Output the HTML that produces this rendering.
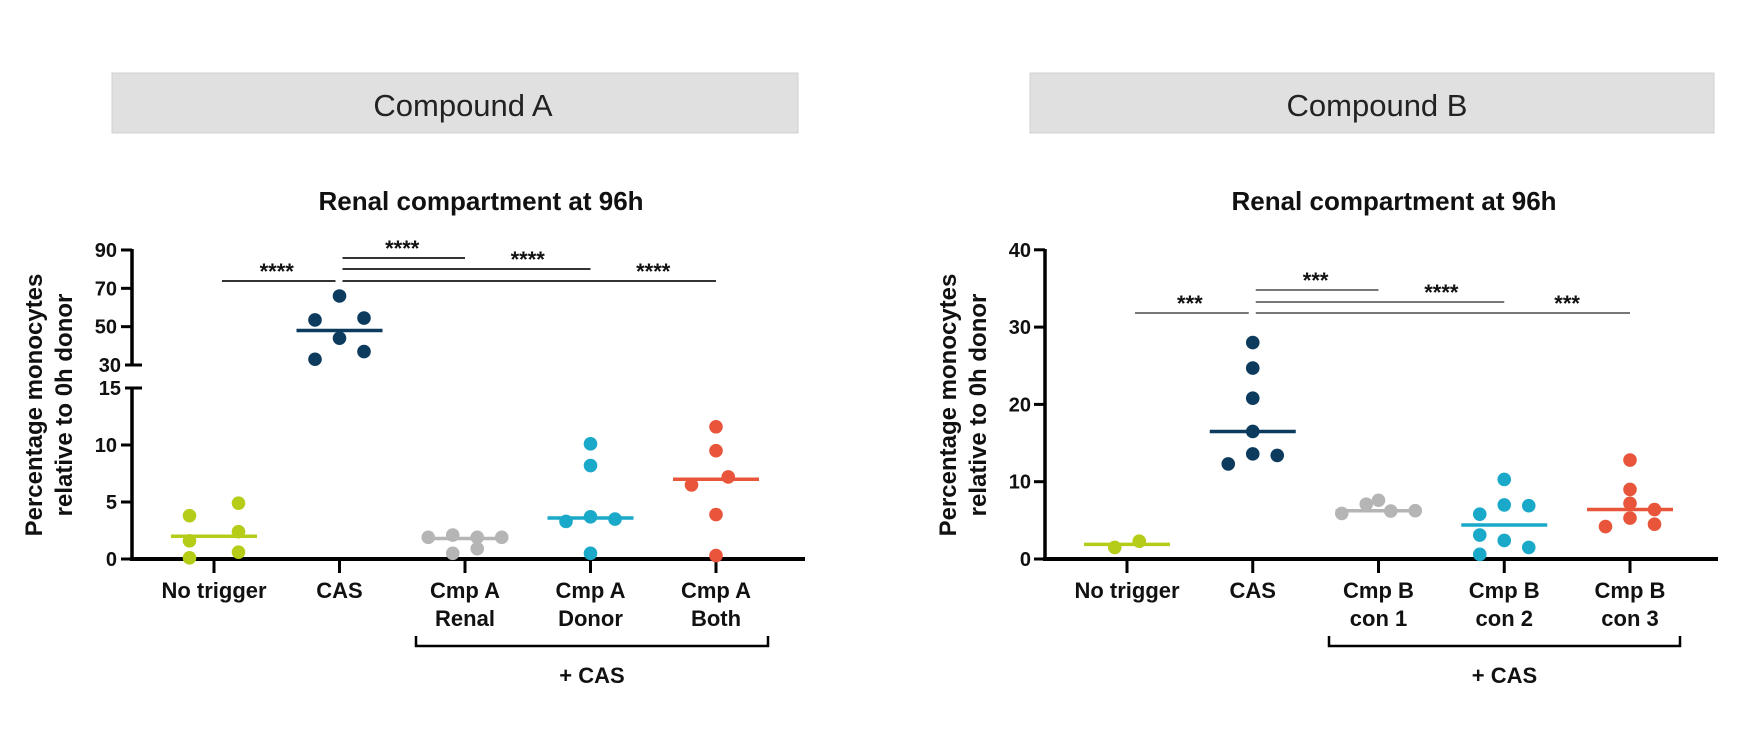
<!DOCTYPE html>
<html><head><meta charset="utf-8"><style>
html,body{margin:0;padding:0;background:#fff;}
svg{display:block;font-family:"Liberation Sans",sans-serif;}
</style></head><body>
<svg id="s" width="1763" height="740" viewBox="0 0 1763 740">
<rect x="112" y="73" width="686" height="60" fill="#e0e0e0" stroke="#d0d0d0"/>
<text x="463" y="116" font-size="31" text-anchor="middle" fill="#222">Compound A</text>
<rect x="1030" y="73" width="684" height="60" fill="#e0e0e0" stroke="#d0d0d0"/>
<text x="1377" y="116" font-size="31" text-anchor="middle" fill="#222">Compound B</text>
<g id="A"></g>
<g id="B"></g>
</svg>
<script>
// ---- Panel A data ----
const catsA = [["No trigger"],["CAS"],["Cmp A","Renal"],["Cmp A","Donor"],["Cmp A","Both"]];
const ticksAlow = [0,5,10,15];
const ticksAhigh = [30,50,70,90];
const noTrigA = [4.9,3.8,2.4,1.6,0.6,0.1];
const casA = [66,53.5,54.5,44,37,33];
const renalA = [1.9,2.1,1.9,1.9,0.5,0.9];
const donorA = [10.1,8.2,3.3,3.7,3.5,0.5];
const bothA = [11.6,9.5,6.5,7.2,3.9,0.3];
const mediansA = [2.0,48,1.8,3.6,7.0];
const jitterA = [[1,-1,1,-1,1,-1],[0,-1,1,0,1,-1],[-1.5,-0.5,0.5,1.5,-0.5,0.5],[0,0,-1,0,1,0],[0,0,-1,0.5,0,0]];
// ---- Panel B data ----
const catsB = [["No trigger"],["CAS"],["Cmp B","con 1"],["Cmp B","con 2"],["Cmp B","con 3"]];
const ticksB = [0,10,20,30,40];
const noTrigB = [1.5,2.3];
const casB = [28.0,24.7,20.8,16.5,12.3,13.6,13.4];
const con1B = [5.9,7.1,7.6,6.2,6.25];
const con2B = [5.8,10.3,7.0,6.9,3.1,2.4,1.5,0.6];
const con3B = [12.8,9.0,7.2,6.4,5.3,4.5,4.2];
const mediansB = [1.9,16.5,6.25,4.4,6.4];
const jitterB = [[-0.5,0.5],[0,0,0,0,-1,0,1],[-1.5,-0.5,0,0.5,1.5],[-1,0,0,1,-1,0,1,-1],[0,0,0,1,0,1,-1]];
const colors = ["#b5cc18","#0d3b5e","#b5b5b5","#1aa9c9","#e8553a"];

const NS="http://www.w3.org/2000/svg";
function mk(p,t,a){const e=document.createElementNS(NS,t);for(const k in a)e.setAttribute(k,a[k]);p.appendChild(e);return e;}

function drawPanel(g,cfg){
  const {ax,x0,xend,cats,groups,meds,jit,yf,sig,sigColor,bracket,ylab,title,titleX}=cfg;
  const xs=i=>x0+i*cfg.step;
  let t=mk(g,'text',{x:titleX,y:210,'font-size':26,'font-weight':'bold','text-anchor':'middle',fill:'#111'});
  t.textContent=title;
  
  
  const lg=mk(g,'g',{transform:`translate(${ylab},405) rotate(-90)`});
  
  
  let l1=mk(lg,'text',{x:0,y:0,'font-size':24,'font-weight':'bold','text-anchor':'middle',fill:'#111'});l1.textContent='Percentage monocytes';
  let l2=mk(lg,'text',{x:0,y:30,'font-size':24,'font-weight':'bold','text-anchor':'middle',fill:'#111'});l2.textContent='relative to 0h donor';
  cfg.axis(g);
  let xa=mk(g,'line',{x1:ax-2,y1:559,x2:xend,y2:559,stroke:'#000','stroke-width':4});
  
  
  cats.forEach((c,i)=>{
    const tk=mk(g,'line',{x1:xs(i),y1:559,x2:xs(i),y2:573,stroke:'#000','stroke-width':3});
    
    
    c.forEach((s,j)=>{
      const tx=mk(g,'text',{x:xs(i),y:598+j*28,'font-size':22,'font-weight':'bold','text-anchor':'middle',fill:'#111'});
      tx.textContent=s;
      
      
    });
  });
  const bp=mk(g,'path',{d:`M${bracket[0]} 636 V646 H${bracket[1]} V636`,fill:'none',stroke:'#000','stroke-width':2.5});
  
  
  const bt=mk(g,'text',{x:(bracket[0]+bracket[1])/2,y:683,'font-size':22,'font-weight':'bold','text-anchor':'middle',fill:'#111'});
  bt.textContent='+ CAS';
  
  
  sig.forEach(s=>{
    const ln=mk(g,'line',{x1:xs(s.a)+(s.a==0?8:3),y1:s.y,x2:xs(s.b)-(s.a==0?4:0),y2:s.y,stroke:sigColor,'stroke-width':2});
    
    
    const st=mk(g,'text',{x:xs(s.s),y:s.y-2,'font-size':22,'font-weight':'bold','text-anchor':'middle',fill:'#111'});
    st.textContent=s.t;
    
    
  });
  groups.forEach((vals,i)=>{
    const gg=mk(g,'g',{});
    
    
    vals.forEach((v,k)=>{
      const c=mk(gg,'circle',{cx:xs(i)+jit[i][k]*24.5,cy:yf(v),r:6.8,fill:colors[i]});
      if(cfg.clip&&v<30&&i==1)c.setAttribute('clip-path','url(#clipA)');
      
      
    });
    const m=mk(gg,'line',{x1:xs(i)-43,y1:yf(meds[i]),x2:xs(i)+43,y2:yf(meds[i]),stroke:colors[i],'stroke-width':3.5});
    
    
  });
}

const svg=document.getElementById('s');
const defs=mk(svg,'defs',{});
const cp=mk(defs,'clipPath',{id:'clipA'});
mk(cp,'rect',{x:0,y:0,width:1763,height:366});

const yA=v=>v<=15?559-v*11.4:365-(v-30)*1.917;
drawPanel(document.getElementById('A'),{
  ax:132,x0:214,step:125.5,xend:805,cats:catsA,
  groups:[noTrigA,casA,renalA,donorA,bothA],meds:mediansA,jit:jitterA,yf:yA,clip:true,
  sig:[{a:0,b:1,s:0.5,y:281,t:'****'},{a:1,b:2,s:1.5,y:258,t:'****'},{a:1,b:3,s:2.5,y:269,t:'****'},{a:1,b:4,s:3.5,y:281,t:'****'}],
  sigColor:'#333',bracket:[416,768],ylab:42,title:'Renal compartment at 96h',titleX:481,
  axis:g=>{
    let a1=mk(g,'line',{x1:132,y1:561,x2:132,y2:389,stroke:'#000','stroke-width':3.5});
    
    
    let a2=mk(g,'line',{x1:132,y1:365,x2:132,y2:249,stroke:'#000','stroke-width':3.5});
    
    
    [[ticksAlow,15],[ticksAhigh,30]].forEach(([tk,brk])=>tk.forEach(v=>{
      const y=yA(v);
      const isB=v==brk;
      const l=mk(g,'line',{x1:isB?125:121,y1:y,x2:isB?142:132,y2:y,stroke:'#000','stroke-width':3});
      
      
      const tx=mk(g,'text',{x:isB?121:117,y:y+7,'font-size':20,'font-weight':'bold','text-anchor':'end',fill:'#111'});
      tx.textContent=v;
      
      
    }));
  }
});

const yB=v=>559-v*7.73;
drawPanel(document.getElementById('B'),{
  ax:1045,x0:1127,step:125.75,xend:1718,cats:catsB,
  groups:[noTrigB,casB,con1B,con2B,con3B],meds:mediansB,jit:jitterB,yf:yB,
  sig:[{a:0,b:1,s:0.5,y:313,t:'***'},{a:1,b:2,s:1.5,y:290,t:'***'},{a:1,b:3,s:2.5,y:302,t:'****'},{a:1,b:4,s:3.5,y:313,t:'***'}],
  sigColor:'#777',bracket:[1329,1680],ylab:956,title:'Renal compartment at 96h',titleX:1394,
  axis:g=>{
    let a=mk(g,'line',{x1:1045,y1:561,x2:1045,y2:249,stroke:'#000','stroke-width':3.5});
    
    
    ticksB.forEach(v=>{
      const y=yB(v);
      const l=mk(g,'line',{x1:1034,y1:y,x2:1045,y2:y,stroke:'#000','stroke-width':3});
      
      
      const tx=mk(g,'text',{x:1031,y:y+7,'font-size':20,'font-weight':'bold','text-anchor':'end',fill:'#111'});
      tx.textContent=v;
      
      
    });
  }
});
</script>
</body></html>
